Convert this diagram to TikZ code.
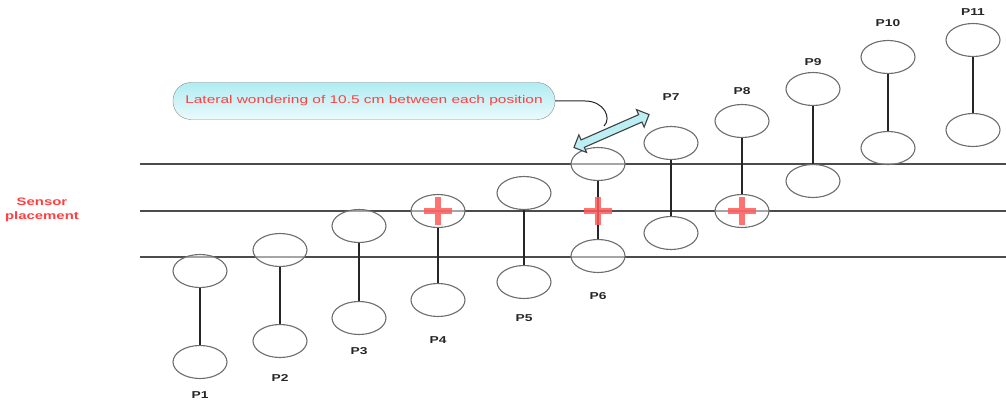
\documentclass[tikz,border=0pt]{standalone}
\usepackage{fontspec}
\setmainfont{Liberation Sans}[FakeStretch=1.38]
\usetikzlibrary{shapes.geometric, shapes.arrows}

\definecolor{rosso}{RGB}{255,64,64}
\definecolor{croceros}{RGB}{255,90,90}
\definecolor{ciano}{RGB}{176,236,242}
\definecolor{bordo}{RGB}{110,110,110}

\begin{document}
\begin{tikzpicture}[x=1pt, y=-1pt,
    impronta/.style={ellipse, draw=bordo, line width=1.1pt, fill=white, fill opacity=0.5,
        minimum width=54pt, minimum height=33pt, inner sep=0pt},
    etich/.style={font=\bfseries\fontsize{10}{11}\selectfont, text=black!85},
    croce/.style={minimum size=28pt, inner sep=0pt, path picture={
        \draw[croceros, line width=5.5pt, opacity=0.85]
            (path picture bounding box.north) -- (path picture bounding box.south)
            (path picture bounding box.west) -- (path picture bounding box.east);}}]
            \useasboundingbox (0,0) rectangle (1006,401);

            % Linee orizzontali
            \foreach \y [count=\i] in {164,211,257} {
                \coordinate (o\i) at (140,\y);
                \coordinate (e\i) at (1006,\y);
                \draw[line width=1.1pt, black!70] (o\i) -- (e\i);
            }

            % Posizioni P1 ... P11 (x, ellisse alta, ellisse bassa, etichetta)
            \foreach \n/\x/\a/\b/\l in {1/200/271/362/395, 2/280/250/341/378,
                3/359/226/318/351, 4/438/211/300/340, 5/524/193/282/318,
                6/598/164/256/296, 7/671/143/233/97, 8/742/121/211/91,
                9/813/89/181/62, 10/888/57/148/23, 11/973/40/130/12} {
                \node[impronta] (p\n-a) at (\x,\a) {};
                \node[impronta] (p\n-b) at (\x,\b) {};
                \draw[line width=1.3pt, black!85] (p\n-a) -- (p\n-b);
                \node[etich] (l\n) at (\x,\l) {P\n};
            }

            % Sensori
            \node[croce] (s4) at (p4-a) {};
            \node[croce] (s6) at (598,211) {};
            \node[croce] (s8) at (p8-b) {};

            \node[text=rosso, font=\bfseries\fontsize{10.8}{13.5}\selectfont, align=center]
                (sensore) at (42,210) {Sensor\\placement};

            % Nota e freccia
            \node[draw=bordo!80, rounded corners=18pt, top color=ciano, bottom color=ciano!25,
                minimum width=382pt, minimum height=37pt, text=rosso,
                font=\fontsize{11.2}{13}\selectfont] (nota) at (364,101)
                {Lateral wondering of 10.5 cm between each position};
            \coordinate (fine) at (604,126);
            \draw[line width=1pt, black!85] (nota.east) -- (585,101)
                .. controls (604,101) and (612,118) .. (fine);

            \node[double arrow, draw=black!75, line width=1.1pt, fill=ciano!85,
                minimum height=82pt, inner sep=3.5pt, double arrow head extend=5.5pt,
                rotate=23.7] (freccia) at (611.5,131) {};
        \end{tikzpicture}
\end{document}
